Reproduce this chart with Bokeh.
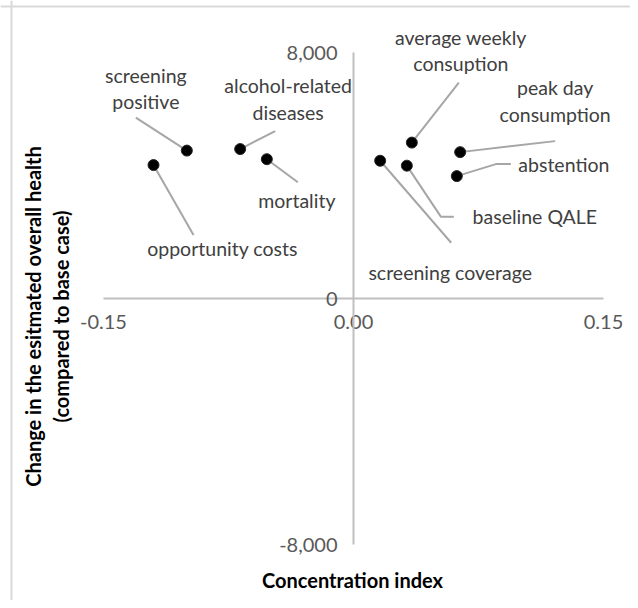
import math
from bokeh.plotting import figure
from bokeh.models import (Range1d, LinearAxis, FixedTicker, PrintfTickFormatter,
                          NumeralTickFormatter, Span, Label, ColumnDataSource)
from bokeh.embed import file_html
from bokeh.resources import INLINE
from bokeh.core.properties import value

# ---------------- data ----------------
parameters = ["screening\npositive", "alcohol-related\ndiseases", "mortality",
              "opportunity costs", "average weekly\nconsuption", "peak day\nconsumption",
              "abstention", "baseline QALE", "screening coverage"]
concentration_index = [-0.100, -0.068, -0.052, -0.120, 0.035, 0.064, 0.062, 0.032, 0.016]
health_change = [4810, 4860, 4530, 4340, 5070, 4760, 3980, 4320, 4480]
x_ticks = [-0.15, 0.0, 0.15]
y_ticks = [-8000, 0, 8000]

# ---------------- layout (pixels) ----------------
W, H = 630, 600
XPP = 0.0006          # data units per pixel (x)
YPP = 16000 / 492     # data units per pixel (y)
X0 = -0.15 - 103 * XPP
X1 = X0 + W * XPP
Y1 = 8000 + 52 * YPP
Y0 = Y1 - H * YPP

def px2x(px):
    return X0 + px * XPP

def py2y(py):
    return Y1 - py * YPP

# label offsets (px, screen: +y down) and leader-line paths (px offsets from point)
label_off = [(-41, -62), (48, -50), (30, 41), (69, 83), (49, -92), (95, -51),
             (107, -12), (128, 51), (70, 112)]
leader_off = [[(-51, -33)], [(35, -18)], [(31, 23)], [(40, 70)], [(47, -60)],
              [(95, -11)], [(39, -12), (54, -12)], [(34, 51), (47, 51)], [(71, 82)]]

p = figure(width=W, height=H, output_backend="svg", toolbar_location=None,
           x_range=Range1d(X0, X1), y_range=Range1d(Y0, Y1),
           x_axis_location=None, y_axis_location=None, min_border=0,
           outline_line_color=None, background_fill_color="white")
p.grid.visible = False

# chart-area border (left + top)
p.add_layout(Span(location=px2x(11), dimension="height", line_color="#d9d9d9", line_width=2))
p.add_layout(Span(location=py2y(6), dimension="width", line_color="#d9d9d9", line_width=2))

axis_style = dict(axis_line_color="#bfbfbf", axis_line_width=2,
                  major_tick_in=0, major_tick_out=0, minor_tick_in=0, minor_tick_out=0,
                  major_label_text_font="Lato", major_label_text_font_size="20px",
                  major_label_text_color="#595959")
xaxis = LinearAxis(fixed_location=0, bounds=(x_ticks[0], x_ticks[-1]),
                   ticker=FixedTicker(ticks=x_ticks), formatter=PrintfTickFormatter(format="%.2f"),
                   major_label_standoff=16, **axis_style)
yaxis = LinearAxis(fixed_location=0, bounds=(y_ticks[0], y_ticks[-1]),
                   ticker=FixedTicker(ticks=y_ticks), formatter=NumeralTickFormatter(format="0,0"),
                   major_label_standoff=16, **axis_style)
p.add_layout(xaxis, "below")
p.add_layout(yaxis, "left")

# leader lines
xs, ys = [], []
for xv, yv, path in zip(concentration_index, health_change, leader_off):
    xs.append([xv] + [xv + dx * XPP for dx, dy in path])
    ys.append([yv] + [yv - dy * YPP for dx, dy in path])
p.multi_line(xs, ys, line_color="#a6a6a6", line_width=2)

src = ColumnDataSource(dict(x=concentration_index, y=health_change, name=parameters,
                            xo=[o[0] for o in label_off], yo=[o[1] for o in label_off]))
p.scatter("x", "y", source=src, size=11, fill_color="black", line_color="#262626", line_width=1)
p.text("x", "y", text="name", x_offset="xo", y_offset="yo", source=src,
       text_align="center", text_baseline="middle", text_font=value("Lato"),
       text_font_size="19.5px", text_color="#404040", text_line_height=1.15)

# axis titles
p.add_layout(Label(x=px2x(46.5), y=py2y(316), angle=math.pi / 2,
                   text="Change in the esitmated overall health\n(compared to base case)",
                   text_align="center", text_baseline="middle", text_font="Lato",
                   text_font_style="bold", text_font_size="20px", text_color="#000000",
                   text_line_height=1.15))
p.add_layout(Label(x=px2x(352), y=py2y(579), text="Concentration index",
                   text_align="center", text_baseline="middle", text_font="Lato",
                   text_font_style="bold", text_font_size="20px", text_color="#000000"))

open("out.html", "w").write(file_html(p, INLINE))
